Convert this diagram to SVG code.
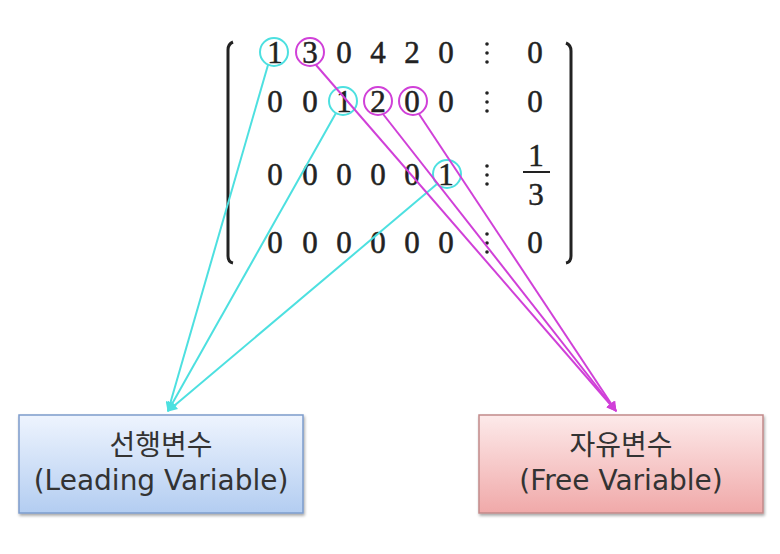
<svg xmlns="http://www.w3.org/2000/svg" width="780" height="554" viewBox="0 0 780 554">
<defs>
<style>
.m{font-family:"Liberation Serif","DejaVu Serif",serif;font-size:31px;fill:#222;stroke:#222;stroke-width:0.5;text-anchor:middle}
.ko{font-family:"Noto Sans CJK KR",sans-serif;font-size:28px;fill:#333;text-anchor:middle}
.lbl{font-family:"DejaVu Sans","Noto Sans",sans-serif;font-size:28px;fill:#333;text-anchor:middle}
.cy{stroke:#4de0e0;stroke-width:2;fill:none}
.mg{stroke:#d040d8;stroke-width:2;fill:none}
.paren{stroke:#222;stroke-width:3;fill:none}
</style>
<linearGradient id="gb" x1="0" y1="0" x2="0" y2="1"><stop offset="0" stop-color="#eef4fe"/><stop offset="1" stop-color="#b3cdf1"/></linearGradient>
<linearGradient id="gr" x1="0" y1="0" x2="0" y2="1"><stop offset="0" stop-color="#fdeaea"/><stop offset="1" stop-color="#f0a9a9"/></linearGradient>
<marker id="ac" viewBox="0 0 10 10" refX="9" refY="5" markerWidth="5" markerHeight="5" orient="auto"><path d="M0,0 L10,5 L0,10 z" fill="#4de0e0"/></marker>
<marker id="am" viewBox="0 0 10 10" refX="9" refY="5" markerWidth="5" markerHeight="5" orient="auto"><path d="M0,0 L10,5 L0,10 z" fill="#d040d8"/></marker>
<filter id="sh" x="-10%" y="-10%" width="120%" height="130%"><feDropShadow dx="1" dy="2" stdDeviation="1.5" flood-color="#000" flood-opacity="0.35"/></filter>
</defs>
<rect width="780" height="554" fill="#fff"/>
<g id="matrix">
<path class="paren" d="M233,42 Q228,44 228,50 L228,256 Q228,262 233,263"/>
<path class="paren" d="M566,43 Q571,45 571,51 L571,256 Q571,262 566,263"/>
<g class="m">
<text x="275" y="63">1</text><text x="310" y="63">3</text><text x="344" y="63">0</text><text x="378" y="63">4</text><text x="412" y="63">2</text><text x="446" y="63">0</text><text x="535" y="63">0</text>
<text x="275" y="112">0</text><text x="310" y="112">0</text><text x="344" y="112">1</text><text x="378" y="112">2</text><text x="412" y="112">0</text><text x="446" y="112">0</text><text x="535" y="112">0</text>
<text x="275" y="185">0</text><text x="310" y="185">0</text><text x="344" y="185">0</text><text x="378" y="185">0</text><text x="412" y="185">0</text><text x="446" y="185">1</text>
<text x="536" y="166">1</text><text x="536" y="205">3</text>
<text x="275" y="253">0</text><text x="310" y="253">0</text><text x="344" y="253">0</text><text x="378" y="253">0</text><text x="412" y="253">0</text><text x="446" y="253">0</text><text x="535" y="253">0</text>
</g>
<line x1="523" y1="172" x2="550" y2="172" stroke="#222" stroke-width="2"/>
<g fill="#222">
<circle cx="487" cy="44" r="1.8"/><circle cx="487" cy="53" r="1.8"/><circle cx="487" cy="62" r="1.8"/>
<circle cx="487" cy="93" r="1.8"/><circle cx="487" cy="102" r="1.8"/><circle cx="487" cy="111" r="1.8"/>
<circle cx="487" cy="166" r="1.8"/><circle cx="487" cy="175" r="1.8"/><circle cx="487" cy="184" r="1.8"/>
<circle cx="487" cy="234" r="1.8"/><circle cx="487" cy="243" r="1.8"/><circle cx="487" cy="252" r="1.8"/>
</g>
</g>
<g id="circles">
<circle class="cy" cx="274" cy="52" r="14"/>
<circle class="mg" cx="310" cy="52" r="14"/>
<circle class="cy" cx="343" cy="101" r="14"/>
<circle class="mg" cx="378" cy="101" r="14"/>
<circle class="mg" cx="413" cy="101" r="14"/>
<circle class="cy" cx="447" cy="174" r="14"/>
</g>
<g id="connectors">
<line class="cy" x1="268" y1="65" x2="168" y2="411" marker-end="url(#ac)"/>
<line class="cy" x1="336" y1="113" x2="168" y2="411" marker-end="url(#ac)"/>
<line class="cy" x1="437" y1="184" x2="168" y2="411" marker-end="url(#ac)"/>
<line class="mg" x1="316" y1="65" x2="616" y2="411" marker-end="url(#am)"/>
<line class="mg" x1="383" y1="114" x2="616" y2="411" marker-end="url(#am)"/>
<line class="mg" x1="419" y1="114" x2="616" y2="411" marker-end="url(#am)"/>
</g>
<g id="leading">
<rect x="19" y="415" width="284" height="98" fill="url(#gb)" stroke="#7d9ccc" stroke-width="1.5" filter="url(#sh)"/>
<text class="ko" x="161" y="455">선행변수</text>
<text class="lbl" x="161" y="490">(Leading Variable)</text>
</g>
<g id="free">
<rect x="479" y="415" width="284" height="98" fill="url(#gr)" stroke="#c28a8a" stroke-width="1.5" filter="url(#sh)"/>
<text class="ko" x="621" y="455">자유변수</text>
<text class="lbl" x="621" y="490">(Free Variable)</text>
</g>
</svg>
